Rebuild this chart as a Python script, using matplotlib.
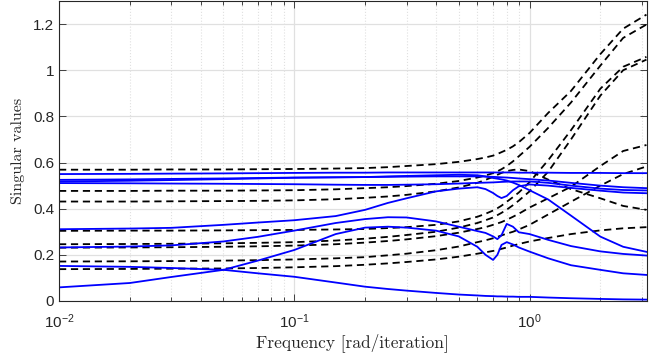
import numpy as np
import matplotlib
matplotlib.use("Agg")
import matplotlib.pyplot as plt
import matplotlib.ticker as mticker

plt.rcParams['font.family'] = ['Liberation Sans', 'DejaVu Sans']

# frequency grid [rad/iteration]
freq = [0.01, 0.02, 0.03, 0.05, 0.07, 0.1, 0.15, 0.2, 0.25, 0.3, 0.4, 0.5, 0.6,
        0.65, 0.7, 0.73, 0.76, 0.8, 0.85, 0.9, 1.0, 1.2, 1.5, 2.0, 2.5, 3.14]

# dashed (black) singular values
dash_1 = [0.569, 0.569, 0.570, 0.570, 0.571, 0.572, 0.574, 0.576, 0.580, 0.585, 0.593, 0.603, 0.615,
          0.622, 0.630, 0.637, 0.645, 0.655, 0.670, 0.688, 0.728, 0.815, 0.910, 1.070, 1.180, 1.241]
dash_2 = [0.477, 0.477, 0.478, 0.478, 0.479, 0.480, 0.484, 0.489, 0.493, 0.498, 0.508, 0.520, 0.535,
          0.544, 0.554, 0.562, 0.571, 0.585, 0.605, 0.627, 0.668, 0.750, 0.860, 1.020, 1.140, 1.198]
dash_3 = [0.431, 0.431, 0.432, 0.433, 0.434, 0.436, 0.441, 0.447, 0.453, 0.460, 0.475, 0.492, 0.512,
          0.525, 0.538, 0.547, 0.555, 0.563, 0.568, 0.570, 0.563, 0.526, 0.485, 0.445, 0.412, 0.395]
dash_4 = [0.304, 0.305, 0.305, 0.306, 0.307, 0.308, 0.310, 0.312, 0.316, 0.320, 0.330, 0.345, 0.365,
          0.378, 0.392, 0.402, 0.413, 0.430, 0.450, 0.470, 0.515, 0.610, 0.740, 0.920, 1.015, 1.058]
dash_5 = [0.246, 0.247, 0.248, 0.250, 0.252, 0.255, 0.262, 0.270, 0.278, 0.286, 0.300, 0.318, 0.338,
          0.350, 0.362, 0.372, 0.382, 0.396, 0.415, 0.435, 0.475, 0.560, 0.700, 0.890, 1.000, 1.046]
dash_6 = [0.231, 0.232, 0.233, 0.235, 0.237, 0.240, 0.246, 0.253, 0.260, 0.267, 0.281, 0.296, 0.312,
          0.320, 0.330, 0.336, 0.342, 0.352, 0.365, 0.378, 0.405, 0.445, 0.495, 0.585, 0.650, 0.676]
dash_7 = [0.171, 0.172, 0.173, 0.175, 0.177, 0.180, 0.185, 0.190, 0.198, 0.205, 0.220, 0.236, 0.255,
          0.263, 0.272, 0.278, 0.284, 0.292, 0.300, 0.310, 0.330, 0.375, 0.430, 0.500, 0.550, 0.583]
dash_8 = [0.138, 0.139, 0.140, 0.141, 0.143, 0.146, 0.151, 0.157, 0.163, 0.169, 0.180, 0.192, 0.205,
          0.211, 0.217, 0.221, 0.226, 0.232, 0.240, 0.247, 0.258, 0.273, 0.290, 0.306, 0.315, 0.320]

# solid (blue) singular values
blue_1 = [0.550, 0.551, 0.552, 0.553, 0.554, 0.555, 0.556, 0.556, 0.557, 0.557, 0.557, 0.557, 0.557,
          0.557, 0.557, 0.557, 0.557, 0.557, 0.557, 0.556, 0.556, 0.556, 0.555, 0.555, 0.554, 0.554]
blue_2 = [0.525, 0.527, 0.529, 0.531, 0.533, 0.535, 0.536, 0.537, 0.540, 0.542, 0.545, 0.547, 0.545,
          0.540, 0.533, 0.530, 0.527, 0.522, 0.513, 0.503, 0.480, 0.440, 0.370, 0.279, 0.235, 0.213]
blue_3 = [0.518, 0.521, 0.524, 0.528, 0.531, 0.534, 0.536, 0.537, 0.538, 0.539, 0.540, 0.540, 0.540,
          0.539, 0.538, 0.537, 0.536, 0.535, 0.533, 0.531, 0.528, 0.522, 0.512, 0.500, 0.493, 0.489]
blue_4 = [0.511, 0.510, 0.509, 0.508, 0.507, 0.506, 0.504, 0.503, 0.503, 0.504, 0.506, 0.509, 0.512,
          0.513, 0.514, 0.515, 0.516, 0.517, 0.518, 0.518, 0.518, 0.512, 0.500, 0.487, 0.481, 0.479]
blue_5 = [0.311, 0.314, 0.317, 0.330, 0.340, 0.350, 0.368, 0.395, 0.425, 0.445, 0.475, 0.487, 0.493,
          0.485, 0.468, 0.455, 0.446, 0.455, 0.480, 0.497, 0.505, 0.500, 0.490, 0.478, 0.470, 0.467]
blue_6 = [0.232, 0.236, 0.241, 0.258, 0.278, 0.305, 0.338, 0.355, 0.363, 0.362, 0.345, 0.322, 0.303,
          0.295, 0.280, 0.268, 0.285, 0.334, 0.322, 0.298, 0.290, 0.265, 0.238, 0.215, 0.204, 0.197]
blue_7 = [0.152, 0.148, 0.143, 0.135, 0.120, 0.105, 0.080, 0.062, 0.052, 0.045, 0.035, 0.028, 0.024,
          0.022, 0.021, 0.020, 0.020, 0.019, 0.019, 0.018, 0.018, 0.015, 0.012, 0.009, 0.007, 0.006]
blue_8 = [0.059, 0.078, 0.104, 0.135, 0.175, 0.221, 0.290, 0.318, 0.322, 0.318, 0.305, 0.280, 0.235,
          0.200, 0.178, 0.200, 0.243, 0.255, 0.245, 0.232, 0.214, 0.185, 0.155, 0.135, 0.120, 0.113]

dashed = [dash_1, dash_2, dash_3, dash_4, dash_5, dash_6, dash_7, dash_8]
solid = [blue_1, blue_2, blue_3, blue_4, blue_5, blue_6, blue_7, blue_8]

xlim = (0.01, np.pi)
ylim = (0, 1.3)
yticks = [0, 0.2, 0.4, 0.6, 0.8, 1.0, 1.2]
ytick_labels = ["0", "0.2", "0.4", "0.6", "0.8", "1", "1.2"]

fig = plt.figure(figsize=(6.65, 3.61), dpi=100)
ax = fig.add_axes([59/665, 60/361, 587.5/665, 300/361])

for s in dashed:
    ax.plot(freq, s, color="k", lw=1.3, linestyle=(0, (4, 2.6)))
for s in solid:
    ax.plot(freq, s, color=(0, 0, 1), lw=1.3)

ax.set_xscale("log")
ax.set_xlim(*xlim)
ax.set_ylim(*ylim)
ax.set_yticks(yticks)
ax.set_yticklabels(ytick_labels)
ax.xaxis.set_minor_formatter(mticker.NullFormatter())

# matlab look
ax.grid(True, which="major", color="#e0e0e0", lw=0.9, linestyle="-")
ax.grid(True, which="minor", axis="x", color="#e0e0e0", lw=0.8, linestyle=":")
ax.set_axisbelow(True)
ax.tick_params(which="both", direction="in", top=True, right=True,
               colors="#262626", labelsize=11)
ax.tick_params(which="major", length=5, width=0.6)
ax.tick_params(which="minor", length=3, width=0.6)
ax.tick_params(axis="x", which="major", pad=8)
for sp in ax.spines.values():
    sp.set_color("#262626")
    sp.set_linewidth(0.8)

ax.set_xlabel("Frequency [rad/iteration]", family="cmr10", fontsize=12.5,
              color="#262626", labelpad=2)
ax.set_ylabel("Singular values", family="cmr10", fontsize=11.5, color="#262626",
              labelpad=6)

fig.savefig("out.png", dpi=100, facecolor="white")
